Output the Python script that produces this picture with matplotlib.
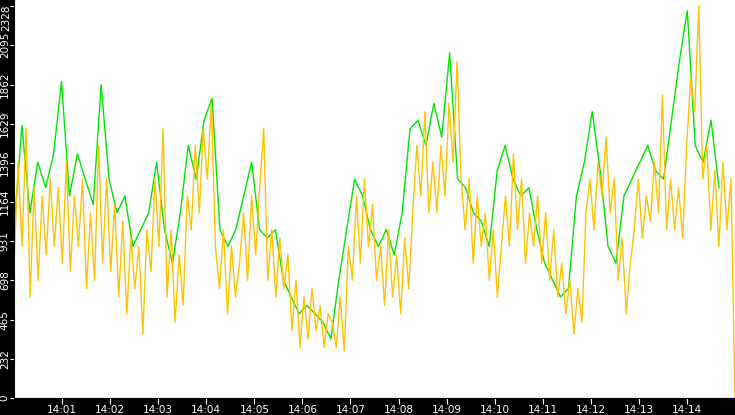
import matplotlib
matplotlib.use("Agg")
import matplotlib.pyplot as plt
import matplotlib.transforms as mtransforms
import numpy as np

orange = [800,1400,900,1600, 600,1250,700, 1200,850,1300,900,1250,800,
          1400,750,1200,900, 1300,650,1100,700,1500, 800,1300,750,1150,
          600,1050,500,950,650,900,380, 1000,750,1300,900,1600,
          600,1000,450,850,550, 1200,1000,1500,1100,1600,1300,
          1750,900,650,1000,500,900,600,800, 1100,700,1200,850,1250,1600,
          700,1000,600,950,650,850, 400,700,300,600,350,650,400,550,300,500,
          450,300,600,280, 900,700,1200,800,1300,900,1150,700,
          900,550,1000,600,850,500,950,650,1100, 1500,1200,1700,1100,1400,
          1100,1500,1200,1750,1400,2000,1300,
          1000,1300,800,1200,900,1100,700,1000,600,900,
          1200,900,1450,1000,1300,800,1100,900,
          1200,800,1100,700,1000,600,800, 500,700,380,650,450,
          1100,1300,1000,1400,1200,1550,1100,1300, 700,950,500,800,
          1000,1300,950,1200,1050,1400,1100,1800,1000, 1300,1000,1250,950,
          1500,1900,1700,2328, 1300,1500,1000,1350,900,1400,1000,1300,0]
green = [1000,1620,1100,1400,1250,1450, 1880,1200,1450,1300,1150,1860,
         1300,1100,1200,900,1000, 1100,1400,1000,800,1100,1500,
         1300,1650,1780,1000,900, 1000,1200,1400,1000,950,1000,
         700,600,500,550,500,450, 350,700,1000,1300,1200,1000,
         900,1000,850,1100,1600, 1650,1500,1750,1550,2050,
         1300,1250,1100,1050,900, 1350,1500,1300,1200,1250,
         1000,800,700,600,650, 1200,1400,1700,1350,900,
         800,1200,1300,1400,1500, 1350,1300,1650,2000,2300,
         1500,1400,1650,1250]
yticks = [0,232,465,698,931,1164,1396,1629,1862,2095,2328]
xlabels = ["14:%02d" % m for m in range(1, 15)]

fig = plt.figure(figsize=(7.35, 4.15), dpi=100, facecolor="white")
fig.patches.append(plt.Rectangle((0, 0), 14/735, 1, transform=fig.transFigure, color="black", zorder=0))
fig.patches.append(plt.Rectangle((0, 0), 1, 17/415, transform=fig.transFigure, color="black", zorder=0))
ax = fig.add_axes([14/735, 17/415, 721/735, 398/415])
ax.set_zorder(5)
t_o = np.arange(len(orange)) * 900 / (len(orange) - 1)
t_g = np.arange(len(green)) * 880 / (len(green) - 1)
ax.plot(t_g, green, color="#00e600", lw=1.0)
ax.plot(t_o, orange, color="#ffc400", lw=1.0)
ax.set_xlim(0, 900)
ax.set_ylim(0, 2364)
for s in ["top", "right"]:
    ax.spines[s].set_visible(False)
for s in ["left", "bottom"]:
    ax.spines[s].set_color("black")
ax.set_yticks(yticks)
labels = [str(v) for v in yticks]
ax.set_yticklabels(labels[:-1] + [""], rotation=90, va="center", color="white", fontsize=7.5)
trans = mtransforms.blended_transform_factory(ax.transAxes, ax.transData) + \
    mtransforms.ScaledTranslation(0, -12/100, fig.dpi_scale_trans)
ax.text(-3/721, yticks[-1], labels[-1], transform=trans, rotation=90,
        ha="right", va="center", color="white", fontsize=7.5, clip_on=False)
ax.set_xticks(np.arange(60, 900, 60))
ax.set_xticklabels(xlabels, color="white", fontsize=7.5)
ax.tick_params(axis="both", colors="white", length=4, pad=1)
ax.tick_params(axis="y", pad=0, length=3)
fig.savefig("out.png", dpi=100, facecolor="white")
